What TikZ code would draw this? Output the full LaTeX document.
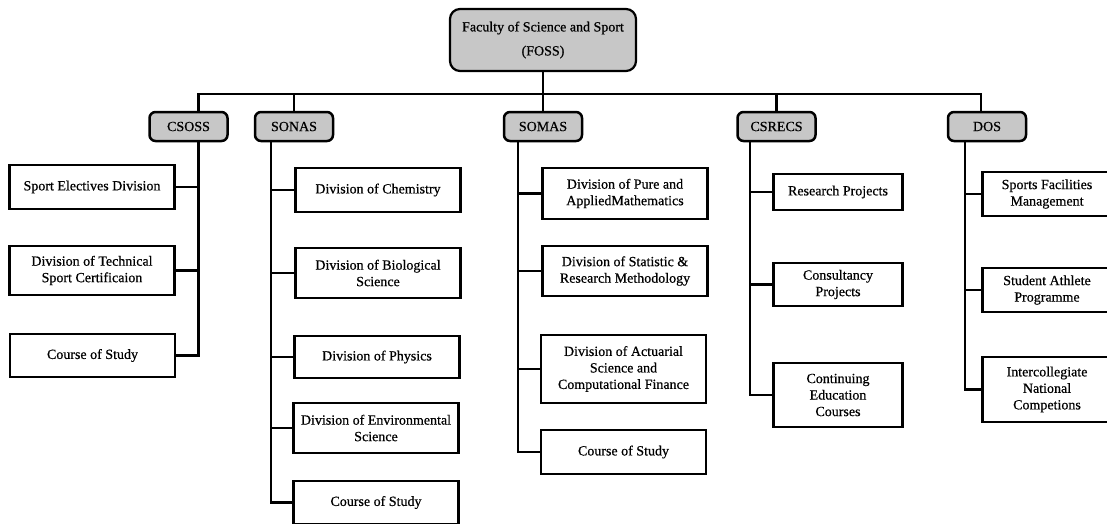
\documentclass[tikz,border=0pt]{standalone}
\usepackage{fontspec}
\newfontfamily\boxfont{Liberation Serif}[FakeBold=0.6]
\begin{document}
\begin{tikzpicture}[x=1pt,y=-1pt,
  head/.style={draw, line width=2.2pt, rounded corners=10pt, fill=black!22, minimum width=186pt, minimum height=62pt, align=center, font=\boxfont\fontsize{14}{24}\selectfont},
  school/.style={draw, line width=2.5pt, rounded corners=6pt, fill=black!22, minimum width=78pt, minimum height=29pt, inner sep=0pt, font=\boxfont\fontsize{14}{16}\selectfont},
  unit/.style={draw, line width=2.2pt, minimum width=165pt, inner sep=0pt, align=center, font=\boxfont\fontsize{14}{16.5}\selectfont},
  small/.style={unit, minimum width=129pt},
  link/.style={line width=2.4pt}]
\useasboundingbox (0,0) rectangle (1107,523);
\clip (0,0) rectangle (1107,523);

\node[head] (FOSS) at (543,40) {Faculty of Science and Sport\\(FOSS)};

\node[school] (CSOSS) at (188.5,126.5) {CSOSS};
\node[school] (SONAS) at (294,126.5) {SONAS};
\node[school] (SOMAS) at (543,126.5) {SOMAS};
\node[school] (CSRECS) at (776.5,126.5) {CSRECS};
\node[school] (DOS) at (987,126.5) {DOS};

\node[unit, minimum height=44pt] (sed) at (92,187) {Sport Electives Division};
\node[unit, minimum height=49pt] (dtsc) at (92,270.5) {Division of Technical\\Sport Certificaion};
\node[unit, minimum height=43pt] (cos1) at (92.5,355.5) {Course of Study};

\node[unit, minimum height=44pt] (chem) at (378,190) {Division of Chemistry};
\node[unit, minimum height=50pt] (bio) at (378,273) {Division of Biological\\Science};
\node[unit, minimum height=42pt] (phys) at (377,357) {Division of Physics};
\node[unit, minimum height=50pt] (env) at (376,428) {Division of Environmental\\Science};
\node[unit, minimum height=43pt] (cos2) at (376,502.5) {Course of Study};

\node[unit, minimum height=51pt] (pure) at (625,193.5) {Division of Pure and\\AppliedMathematics};
\node[unit, minimum height=50pt] (stat) at (625,271) {Division of Statistic \&\\Research Methodology};
\node[unit, minimum height=68pt] (act) at (623.5,369) {Division of Actuarial\\Science and\\Computational Finance};
\node[unit, minimum height=44pt] (cos3) at (623.5,452) {Course of Study};

\node[small, minimum height=36pt] (res) at (838,192) {Research Projects};
\node[small, minimum height=43pt] (con) at (838,284.5) {Consultancy\\Projects};
\node[small, minimum height=64pt] (edu) at (838,395) {Continuing\\Education\\Courses};

\node[small, minimum height=44pt] (fac) at (1047,194) {Sports Facilities\\Management};
\node[small, minimum height=44pt] (ath) at (1047,290) {Student Athlete\\Programme};
\node[small, minimum height=65pt] (comp) at (1047,389.5) {Intercollegiate\\National\\Competions};

\draw[link] (FOSS.south) -- (SOMAS.north);
\draw[link] ([xshift=10pt]CSOSS.north) -- ++(0,-17) -| ([xshift=-6pt]DOS.north);
\draw[link] (SONAS.north) -- ++(0,-17);
\draw[link] (CSRECS.north) -- ++(0,-17);

\foreach \c in {sed,dtsc,cos1}
  \draw[link] ([xshift=10pt]CSOSS.south) |- (\c.east);
\foreach \c in {chem,bio,phys,env,cos2}
  \draw[link] ([xshift=-23pt]SONAS.south) |- (\c.west);
\foreach \c in {pure,stat,act,cos3}
  \draw[link] ([xshift=-25pt]SOMAS.south) |- (\c.west);
\foreach \c in {res,con,edu}
  \draw[link] ([xshift=-26.5pt]CSRECS.south) |- (\c.west);
\foreach \c in {fac,ath,comp}
  \draw[link] ([xshift=-22pt]DOS.south) |- (\c.west);
\end{tikzpicture}
\end{document}
